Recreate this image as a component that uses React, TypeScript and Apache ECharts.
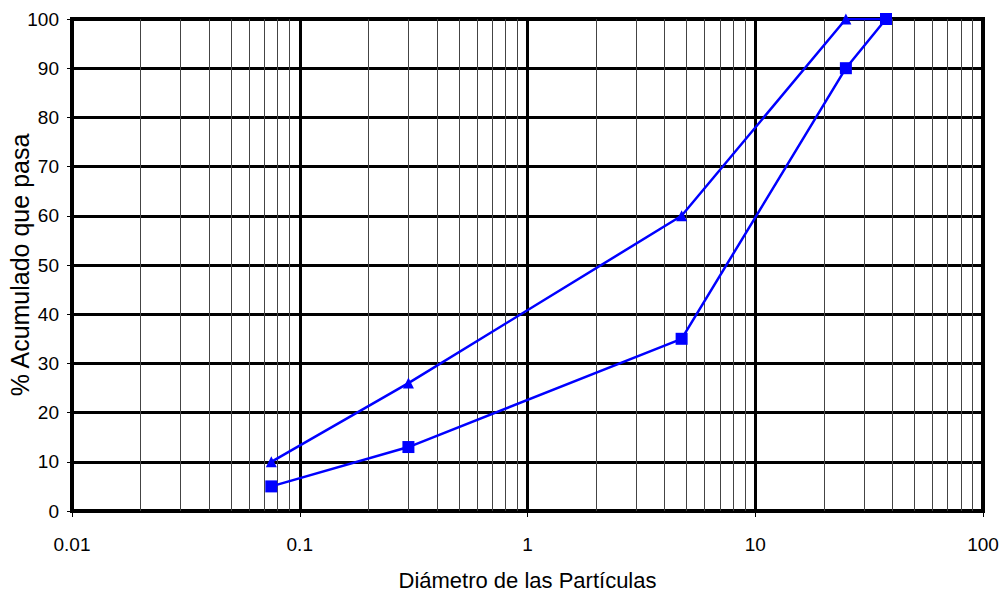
import React, { useEffect, useRef } from "react";
import * as echarts from "echarts";

const sizes = [0.075, 0.3, 4.75, 25, 37.5];
const upperPass = [10, 26, 60, 100, 100];
const lowerPass = [5, 13, 35, 90, 100];
const minorGrid = [
  0.02, 0.03, 0.04, 0.05, 0.06, 0.07, 0.08, 0.09,
  0.2, 0.3, 0.4, 0.5, 0.6, 0.7, 0.8, 0.9,
  2, 3, 4, 5, 6, 7, 8, 9,
  20, 30, 40, 50, 60, 70, 80, 90,
];
const xTitle = "Diámetro de las Partículas";
const yTitle = "% Acumulado que pasa";

export default function App() {
  const ref = useRef<HTMLDivElement>(null);
  useEffect(() => {
    const chart = echarts.init(ref.current!, null, { renderer: "svg" });
    const font = "Liberation Sans, Arial, sans-serif";
    chart.setOption({
      animation: false,
      backgroundColor: "#fff",
      grid: {
        left: 72, right: 20, top: 19, bottom: 87,
        outerBoundsMode: "none",
        containLabel: false,
        show: true, borderColor: "#000", borderWidth: 4, backgroundColor: "transparent",
      },
      xAxis: {
        type: "log", logBase: 10, min: 0.01, max: 100,
        name: xTitle, nameLocation: "middle", nameGap: 58,
        nameMoveOverlap: false,
        nameTextStyle: { fontFamily: font, fontSize: 22, color: "#000" },
        axisLine: { show: true, lineStyle: { color: "#000", width: 4 } },
        axisTick: { show: true, length: 6, lineStyle: { color: "#000", width: 1 } },
        axisLabel: {
          fontFamily: font, fontSize: 19, color: "#000", margin: 24,
          formatter: (v: number) => String(+v.toPrecision(3)),
        },
        splitLine: { show: true, lineStyle: { color: "#000", width: 3 } },
        minorTick: { show: false },
      },
      yAxis: {
        type: "value", min: 0, max: 100, interval: 10,
        name: yTitle, nameLocation: "middle", nameGap: 40, nameRotate: 90,
        nameMoveOverlap: false,
        nameTextStyle: { fontFamily: font, fontSize: 25, color: "#000" },
        axisLine: { show: true, lineStyle: { color: "#000", width: 4 } },
        axisTick: { show: true, length: 5, lineStyle: { color: "#000", width: 1 } },
        axisLabel: { fontFamily: font, fontSize: 19, color: "#000", margin: 13 },
        splitLine: { show: true, lineStyle: { color: "#000", width: 3 } },
      },
      series: [
        {
          type: "line", data: [], silent: true,
          markLine: {
            silent: true, symbol: "none", animation: false,
            label: { show: false },
            lineStyle: { color: "#444", width: 1, type: "solid" },
            data: minorGrid.map((v) => ({ xAxis: v })),
          },
        },
        {
          type: "line",
          data: sizes.map((s, i) => [s, upperPass[i]]),
          symbol: "triangle", symbolSize: 11,
          lineStyle: { color: "#0000ff", width: 2.5 },
          itemStyle: { color: "#0000ff" },
          z: 5,
        },
        {
          type: "line",
          data: sizes.map((s, i) => [s, lowerPass[i]]),
          symbol: "rect", symbolSize: 12,
          lineStyle: { color: "#0000ff", width: 2.5 },
          itemStyle: { color: "#0000ff" },
          z: 5,
        },
      ],
    });
    return () => chart.dispose();
  }, []);
  return (
    <div
      ref={ref}
      style={{ position: "absolute", left: 0, top: 0, width: 1003, height: 598 }}
    />
  );
}
